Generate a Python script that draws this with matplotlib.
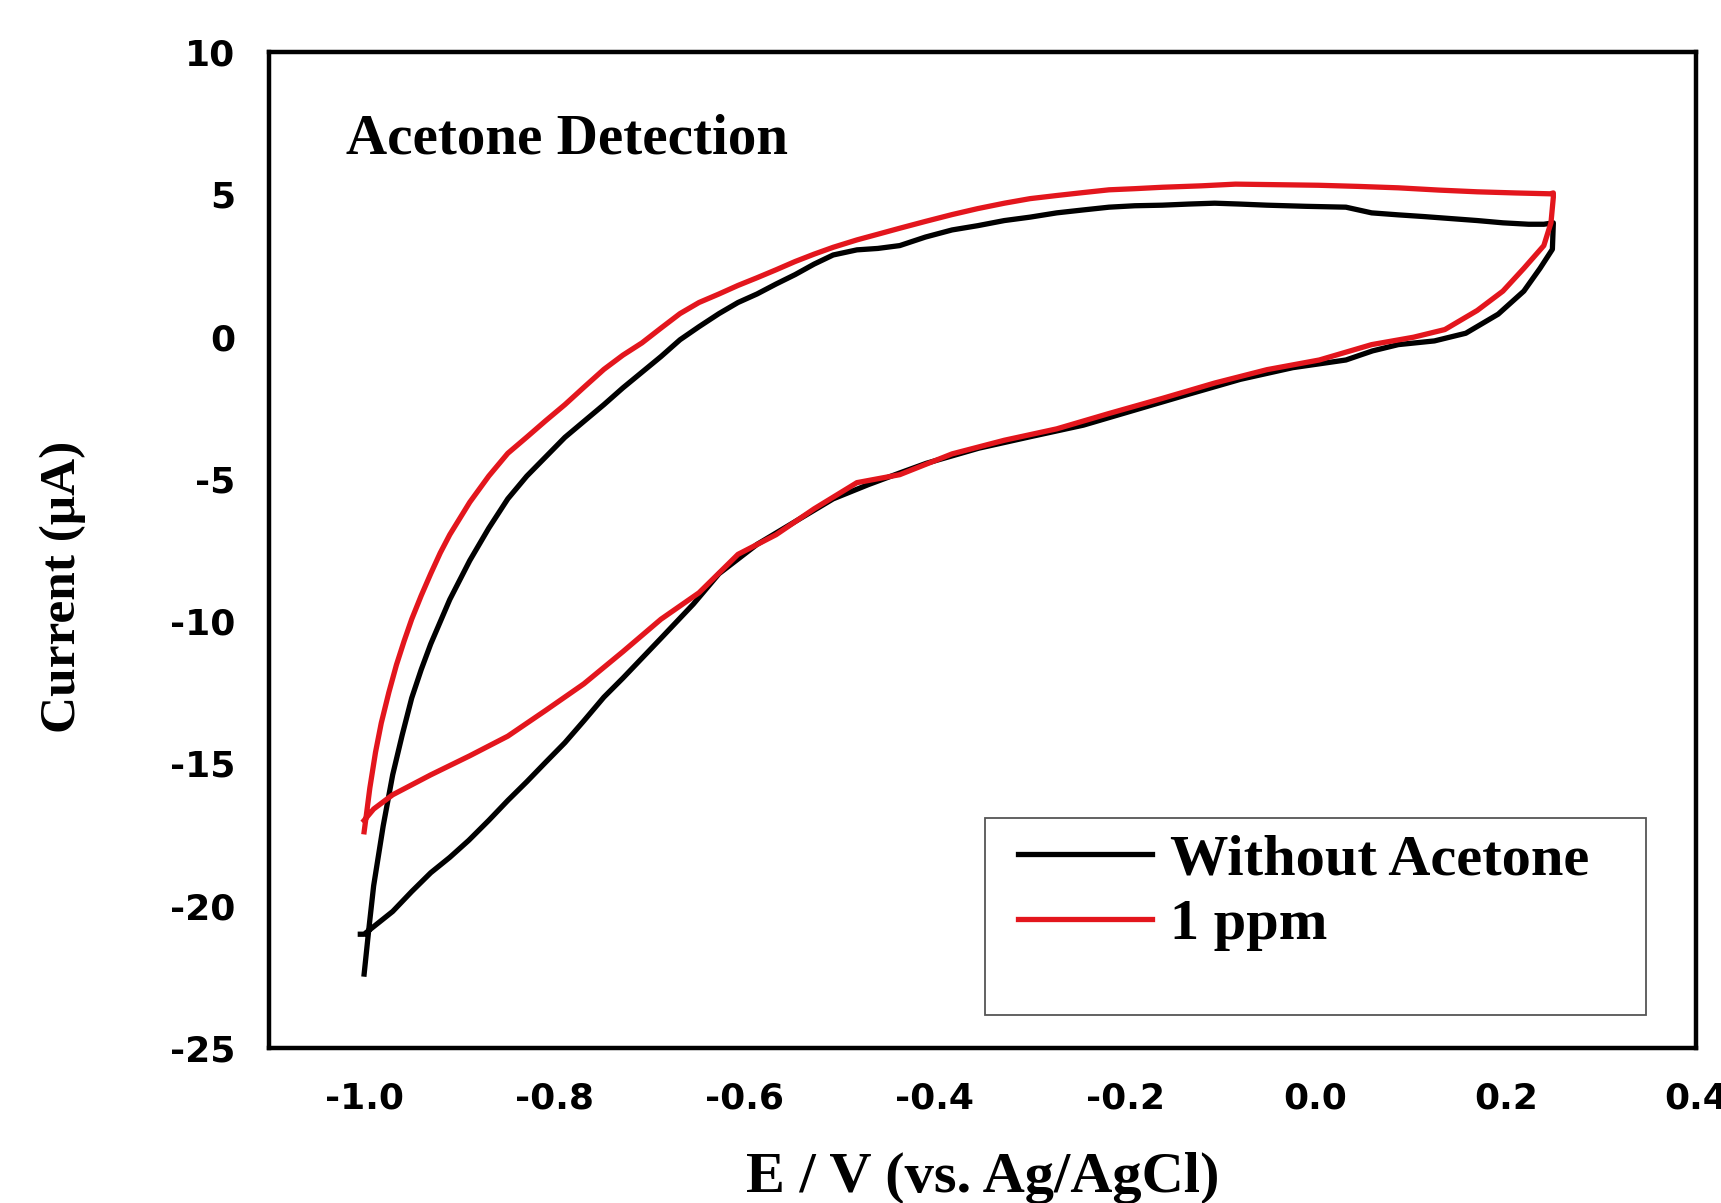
import matplotlib
matplotlib.use("Agg")
import matplotlib.pyplot as plt
from matplotlib.patches import Rectangle

# cyclic voltammograms (E in V, I in uA)
# each trace: forward scan -1.0 -> 0.25, then reverse back to -1.0
blank_E = [-1.000, -0.995, -0.990, -0.980, -0.970, -0.960, -0.950, -0.940, -0.930,
           -0.910, -0.889, -0.869, -0.849, -0.829, -0.809, -0.789, -0.768, -0.748,
           -0.728, -0.708, -0.688, -0.668, -0.648, -0.627, -0.607, -0.587, -0.567,
           -0.547, -0.527, -0.507, -0.482, -0.460, -0.437, -0.410, -0.382, -0.355,
           -0.327, -0.300, -0.272, -0.245, -0.217, -0.190, -0.161, -0.133, -0.106,
           -0.080, -0.051, -0.010, 0.032, 0.059, 0.087, 0.114, 0.142, 0.170, 0.197,
           0.224, 0.240, 0.250,
           0.249, 0.236, 0.219, 0.192, 0.158, 0.125, 0.087, 0.060, 0.032, -0.024,
           -0.079, -0.134, -0.189, -0.244, -0.299, -0.354, -0.409, -0.437, -0.470,
           -0.507, -0.547, -0.587, -0.627, -0.654, -0.688, -0.708, -0.728, -0.748,
           -0.769, -0.789, -0.809, -0.829, -0.849, -0.869, -0.890, -0.910, -0.930,
           -0.950, -0.970, -0.985, -1.000, -1.004]
blank_I = [-22.4, -20.8, -19.3, -17.2, -15.4, -14.0, -12.7, -11.7, -10.8,
           -9.24, -7.87, -6.73, -5.70, -4.90, -4.22, -3.54, -2.95, -2.39,
           -1.80, -1.25, -0.70, -0.11, 0.35, 0.81, 1.20, 1.50, 1.85,
           2.18, 2.55, 2.87, 3.05, 3.10, 3.20, 3.50, 3.75, 3.90,
           4.08, 4.20, 4.35, 4.45, 4.55, 4.60, 4.62, 4.66, 4.69,
           4.66, 4.62, 4.58, 4.55, 4.35, 4.28, 4.22, 4.15, 4.08, 4.00,
           3.95, 3.95, 4.00,
           3.07, 2.40, 1.60, 0.79, 0.12, -0.15, -0.28, -0.50, -0.82, -1.09,
           -1.50, -2.03, -2.57, -3.11, -3.51, -3.92, -4.45, -4.79, -5.20,
           -5.70, -6.50, -7.30, -8.33, -9.40, -10.6, -11.3, -12.0, -12.67,
           -13.5, -14.27, -14.95, -15.64, -16.3, -17.0, -17.7, -18.3, -18.84,
           -19.5, -20.2, -20.6, -21.0, -21.0]

ppm_E = [-1.000, -0.998, -0.994, -0.988, -0.982, -0.974, -0.966, -0.958, -0.950,
         -0.940, -0.930, -0.920, -0.910, -0.889, -0.869, -0.849, -0.829, -0.809,
         -0.789, -0.768, -0.748, -0.728, -0.708, -0.688, -0.668, -0.648, -0.627,
         -0.607, -0.587, -0.567, -0.547, -0.527, -0.507, -0.482, -0.460, -0.437,
         -0.410, -0.382, -0.355, -0.327, -0.300, -0.272, -0.245, -0.217, -0.190,
         -0.161, -0.120, -0.084, -0.040, 0.003, 0.045, 0.087, 0.130, 0.170, 0.210,
         0.2465, 0.250,
         0.250, 0.2475, 0.240, 0.219, 0.197, 0.170, 0.136, 0.103, 0.059, 0.004,
         -0.051, -0.106, -0.161, -0.217, -0.272, -0.327, -0.382, -0.437, -0.482,
         -0.527, -0.567, -0.607, -0.648, -0.688, -0.728, -0.769, -0.809, -0.849,
         -0.889, -0.930, -0.970, -0.990, -1.000]
ppm_I = [-17.4, -16.9, -15.86, -14.6, -13.58, -12.5, -11.53, -10.7, -9.93,
         -9.10, -8.33, -7.60, -6.96, -5.82, -4.90, -4.10, -3.53, -2.95,
         -2.39, -1.75, -1.15, -0.65, -0.22, 0.30, 0.81, 1.20, 1.50,
         1.80, 2.07, 2.35, 2.64, 2.90, 3.14, 3.40, 3.60, 3.81,
         4.05, 4.29, 4.50, 4.69, 4.85, 4.96, 5.06, 5.16, 5.20,
         5.25, 5.30, 5.36, 5.34, 5.32, 5.28, 5.23, 5.15, 5.09, 5.05,
         5.02, 5.05,
         4.90, 4.00, 3.20, 2.40, 1.60, 0.92, 0.25, -0.02, -0.28, -0.82,
         -1.16, -1.63, -2.17, -2.70, -3.24, -3.64, -4.12, -4.85, -5.13,
         -6.05, -6.96, -7.65, -9.00, -9.93, -11.07, -12.2, -13.13, -14.04,
         -14.73, -15.4, -16.1, -16.6, -17.0]

series_labels = ["Without Acetone", "1 ppm"]
x_ticks = [-1.0, -0.8, -0.6, -0.4, -0.2, 0.0, 0.2, 0.4]
y_ticks = [-25, -20, -15, -10, -5, 0, 5, 10]

serif = "Liberation Serif"
sans = "DejaVu Sans"

fig = plt.figure(figsize=(17.21, 12.03), dpi=100)
ax = fig.add_axes([0.1563, 0.1288, 0.8292, 0.8279])

ax.plot(blank_E, blank_I, color="black", lw=3.8, label=series_labels[0])
ax.plot(ppm_E, ppm_I, color="#e3161d", lw=3.8, label=series_labels[1])

ax.set_xlim(-1.1, 0.4)
ax.set_ylim(-25, 10)
ax.set_xticks(x_ticks)
ax.set_xticklabels(["%.1f" % v for v in x_ticks])
ax.set_yticks(y_ticks)
ax.set_yticklabels([str(v) for v in y_ticks])
ax.tick_params(length=0, pad=24, labelsize=26)
for lab in ax.get_xticklabels() + ax.get_yticklabels():
    lab.set_fontfamily(sans)
    lab.set_fontweight("bold")
for sp in ax.spines.values():
    sp.set_linewidth(3.2)

ax.set_xlabel("E / V (vs. Ag/AgCl)", fontfamily=serif, fontweight="bold", fontsize=42)
ax.set_ylabel("Current (\u03bcA)", fontfamily=serif, fontweight="bold", fontsize=37)
ax.xaxis.set_label_coords(0.5, -0.104)
ax.yaxis.set_label_coords(-0.128, 0.463)

ax.text(0.054, 0.912, "Acetone Detection", transform=ax.transAxes, fontfamily=serif,
        fontweight="bold", fontsize=41, va="center", ha="left")

# legend box is drawn separately (it is taller than its two entries)
ax.add_patch(Rectangle((0.502, 0.033), 0.463, 0.198, transform=ax.transAxes,
                       fill=False, edgecolor="#555555", lw=1.3))
ax.legend(loc="upper left", bbox_to_anchor=(0.525, 0.215), frameon=False,
          borderpad=0, borderaxespad=0, handlelength=2.3, handletextpad=0.3,
          labelspacing=0.2, prop={"family": serif, "weight": "bold", "size": 42})

fig.savefig("out.png", dpi=100)
